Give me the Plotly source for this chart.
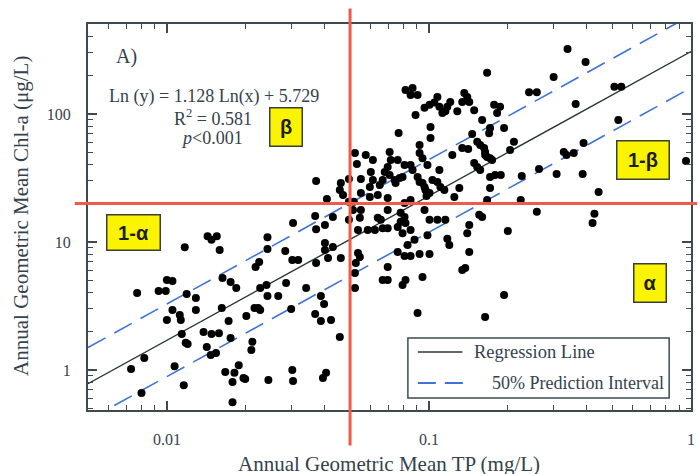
import numpy as np
import plotly.graph_objects as go

# ---------------- data ----------------
# Annual geometric mean TP (mg/L) and Chl-a (ug/L), grouped by TP range
tp_low = [0.0073, 0.0077, 0.0082, 0.0080, 0.0093, 0.0099, 0.0100, 0.0105, 0.0117, 0.0100,
          0.0105, 0.0107, 0.0116, 0.0112, 0.0113, 0.0114, 0.0118, 0.0120, 0.0119, 0.0129,
          0.0129, 0.0138, 0.0148, 0.0158, 0.0142, 0.0154, 0.0147, 0.0143, 0.0155, 0.0148,
          0.0159, 0.0162, 0.0172, 0.0175, 0.0163, 0.0175, 0.0184, 0.0167, 0.0188, 0.0181,
          0.0178, 0.0196, 0.0199, 0.0178, 0.0201, 0.0216, 0.0223, 0.0227, 0.0212, 0.0210,
          0.0225, 0.0218, 0.0227, 0.0240, 0.0242, 0.0242, 0.0242, 0.0244, 0.0266, 0.0283,
          0.0285, 0.0298, 0.0301, 0.0317, 0.0301, 0.0303, 0.0303]
chla_low = [1.02, 4.0, 1.24, 0.66, 4.15, 4.15, 5.05, 4.95, 9.1, 2.46,
            2.94, 1.07, 0.76, 2.69, 2.46, 1.91, 1.63, 1.60, 3.92, 3.65,
            2.94, 1.98, 1.91, 1.94, 1.51, 1.36, 1.31, 11.1, 11.1, 10.4,
            8.66, 3.05, 2.42, 1.78, 5.24, 4.87, 4.38, 0.965, 1.09, 0.95,
            0.805, 0.865, 0.85, 0.56, 2.64, 3.05, 3.05, 2.94, 1.66, 1.43,
            6.97, 6.37, 4.38, 4.61, 3.78, 10.9, 8.82, 0.835, 3.78, 8.5,
            4.78, 2.99, 7.23, 7.23, 1.00, 0.82, 14.1]

tp_mid = [0.0340, 0.0371, 0.0368, 0.0398, 0.0387, 0.0387, 0.0394, 0.0405, 0.0371, 0.0408,
          0.0368, 0.0371, 0.0401, 0.0401, 0.0401, 0.0430, 0.0412, 0.0461, 0.0423, 0.0457,
          0.0430, 0.0461, 0.0457, 0.0470, 0.0495, 0.0550, 0.0522, 0.0574, 0.0611, 0.0531,
          0.0600, 0.0611, 0.0550, 0.0595, 0.0649, 0.0666, 0.0708, 0.0740, 0.0746, 0.0773,
          0.0793, 0.0595, 0.0638, 0.0696, 0.0495, 0.0517, 0.0696, 0.0780, 0.0807, 0.0513,
          0.0550, 0.0495, 0.0545, 0.0638, 0.0655, 0.0584, 0.0622, 0.0666, 0.0696, 0.0760,
          0.0780, 0.0814, 0.0536, 0.0708, 0.0715, 0.0760, 0.0696, 0.0678, 0.0807, 0.0766,
          0.0536, 0.0545, 0.0526, 0.0522, 0.0522, 0.0696, 0.0666, 0.0696, 0.0793, 0.0814,
          0.0760, 0.0807, 0.0851, 0.0921, 0.1005, 0.0881, 0.0829, 0.0851, 0.0793, 0.0987]
chla_mid = [4.38, 6.85, 2.74, 3.28, 2.42, 3.78, 0.865, 0.95, 30.0, 21.7,
            16.0, 12.6, 13.6, 9.83, 8.66, 9.14, 7.50, 7.50, 2.46, 1.81,
            15.7, 28.9, 25.5, 23.3, 31.1, 31.1, 49.6, 47.8, 43.7, 40.7,
            35.2, 30.5, 24.1, 26.9, 27.9, 30.5, 33.4, 30.5, 28.9, 31.6,
            32.2, 22.5, 23.3, 22.1, 20.6, 20.6, 17.8, 16.9, 15.7, 17.8,
            17.8, 14.9, 15.5, 15.5, 14.9, 12.4, 12.4, 12.8, 12.8, 13.1,
            14.4, 14.1, 12.4, 50.4, 43.7, 43.7, 38.6, 35.2, 40.0, 71.0,
            8.20, 7.63, 6.85, 5.72, 4.38, 6.37, 5.05, 5.05, 4.61, 5.05,
            8.35, 7.77, 7.77, 8.05, 8.05, 10.4, 9.48, 12.4, 11.7, 11.3]

tp_upper = [0.1667, 0.0814, 0.0866, 0.0851, 0.0905, 0.0962, 0.1005, 0.1049, 0.1077, 0.1096,
            0.1125, 0.1175, 0.1206, 0.1155, 0.1283, 0.1364, 0.1400, 0.1340, 0.1425, 0.1488,
            0.1773, 0.1868, 0.1820, 0.0889, 0.1596, 0.1014, 0.1711, 0.1697, 0.1935, 0.1014,
            0.1462, 0.0921, 0.0921, 0.0945, 0.1340, 0.1412, 0.1528, 0.1569, 0.1624, 0.1638,
            0.1638, 0.1667, 0.1711, 0.1742, 0.1228, 0.0851, 0.0866, 0.0987, 0.1096, 0.1488,
            0.1528, 0.1569, 0.1711, 0.1788, 0.0905, 0.0921, 0.0945, 0.0962, 0.0970, 0.1005,
            0.1031, 0.1077, 0.1106, 0.1145, 0.1306, 0.1250, 0.1711, 0.0979, 0.0851, 0.0807,
            0.0962, 0.1005, 0.1077, 0.1155, 0.1555, 0.1596, 0.1667, 0.1425, 0.1400, 0.1175,
            0.1196, 0.1425, 0.1340, 0.1376, 0.0945, 0.1935, 0.0905, 0.1638]
chla_upper = [210, 154, 160, 141, 141, 112, 118, 123, 136, 114,
              102, 114, 124, 105, 105, 146, 136, 124, 124, 107,
              118, 114, 102, 98.2, 89.8, 79.2, 77.7, 70.9, 77.7, 64.9,
              69.7, 57.3, 49.6, 45.2, 54.2, 53.3, 60.6, 57.3, 54.2, 50.4,
              47.8, 46.2, 45.2, 43.7, 47.8, 40.0, 36.5, 40.0, 36.5, 41.4,
              38.6, 36.5, 32.2, 33.4, 32.2, 29.4, 28.9, 26.9, 25.5, 24.1,
              30.5, 29.4, 26.9, 25.5, 26.4, 22.5, 26.4, 22.9, 21.3, 20.2,
              17.8, 14.9, 14.9, 14.9, 16.3, 15.7, 21.3, 13.6, 11.7, 10.6,
              9.48, 8.35, 6.04, 6.26, 5.33, 3.85, 2.79, 2.59]

tp_high = [0.338, 0.396, 0.299, 0.241, 0.258, 0.510, 0.542, 0.363, 0.528, 0.211,
           0.204, 0.389, 0.327, 0.335, 0.357, 0.188, 0.226, 0.263, 0.307, 0.386,
           0.957, 0.444, 0.224, 0.258, 0.428, 0.421, 0.200]
chla_high = [322, 255, 195, 148, 148, 163, 163, 120, 89.8, 60.6,
             52.3, 59.4, 50.4, 47.8, 49.6, 33.4, 32.8, 37.2, 34.0, 34.0,
             43.0, 24.6, 21.3, 17.2, 16.6, 14.1, 12.2]

# regression (from the equation printed on the chart) and 50% prediction band factor
REG_SLOPE = 1.128
REG_INTERCEPT = 5.729
PI_FACTOR = 1.92

# thresholds (red lines)
TP_THRESHOLD = 0.05
CHLA_THRESHOLD = 20

X_RANGE = [0.005, 1.0]
Y_RANGE = [0.487, 505]

x_tick_vals = [0.01, 0.1, 1]
x_tick_text = ["0.01", "0.1", "1"]
y_tick_vals = [1, 10, 100]
y_tick_text = ["1", "10", "100"]

# ---------------- figure ----------------
tp = tp_low + tp_mid + tp_upper + tp_high
chla = chla_low + chla_mid + chla_upper + chla_high

INK = "#34424c"
AXIS = "#3d4b4f"
RED = "#f05a48"
BLUE = "#3f74d6"
REG = "#24382f"
SERIF = "Liberation Serif"

xr = np.array(X_RANGE)
reg_y = np.exp(REG_INTERCEPT) * xr ** REG_SLOPE

fig = go.Figure()
fig.add_trace(go.Scatter(x=xr, y=reg_y * PI_FACTOR, mode="lines",
                         line=dict(color=BLUE, width=1.6, dash="20px,10px"), showlegend=False))
fig.add_trace(go.Scatter(x=xr, y=reg_y / PI_FACTOR, mode="lines",
                         line=dict(color=BLUE, width=1.6, dash="20px,10px"), showlegend=False))
fig.add_trace(go.Scatter(x=xr, y=reg_y, mode="lines",
                         line=dict(color=REG, width=1.4), showlegend=False))
fig.add_trace(go.Scatter(x=tp, y=chla, mode="markers",
                         marker=dict(color="black", size=8), showlegend=False))

lx0, lx1 = np.log10(X_RANGE[0]), np.log10(X_RANGE[1])
ly0, ly1 = np.log10(Y_RANGE[0]), np.log10(Y_RANGE[1])
px_tp = (np.log10(TP_THRESHOLD) - lx0) / (lx1 - lx0)
py_chla = (np.log10(CHLA_THRESHOLD) - ly0) / (ly1 - ly0)

minor_x = [m * 10.0 ** k for k in range(-3, 1) for m in range(2, 10)]
minor_y = [m * 10.0 ** k for k in range(-1, 3) for m in range(2, 10)]

axis_common = dict(
    type="log", showgrid=False, zeroline=False, showline=True, linecolor=AXIS,
    linewidth=2, mirror="allticks", ticks="inside", ticklen=9, tickwidth=1.5,
    tickcolor=AXIS, tickfont=dict(family=SERIF, size=16, color=INK),
)

fig.update_layout(
    width=700, height=474,
    margin=dict(l=88, r=5, t=24, b=64),
    paper_bgcolor="white", plot_bgcolor="white",
    xaxis=dict(range=[lx0, lx1], tickmode="array", tickvals=x_tick_vals, ticktext=x_tick_text,
               ticklabelstandoff=14,
               minor=dict(tickmode="array", tickvals=minor_x, ticks="inside", ticklen=5,
                          tickcolor=AXIS, tickwidth=1.2, showgrid=False),
               **axis_common),
    yaxis=dict(range=[ly0, ly1], tickmode="array", tickvals=y_tick_vals, ticktext=y_tick_text,
               ticklabelstandoff=12,
               minor=dict(tickmode="array", tickvals=minor_y, ticks="inside", ticklen=5,
                          tickcolor=AXIS, tickwidth=1.2, showgrid=False),
               **axis_common),
    shapes=[
        dict(type="line", xref="paper", yref="paper", x0=px_tp, x1=px_tp, y0=-0.092, y1=1.04,
             line=dict(color=RED, width=3), layer="above"),
        dict(type="line", xref="paper", yref="paper", x0=-0.022, x1=1.01, y0=py_chla, y1=py_chla,
             line=dict(color=RED, width=3), layer="above"),
        # legend box
        dict(type="rect", xref="paper", yref="paper", x0=0.5305, x1=0.9638, y0=0.0311, y1=0.1865,
             line=dict(color=AXIS, width=1.5), fillcolor="white", layer="above"),
        dict(type="line", xref="paper", yref="paper", x0=0.547, x1=0.621, y0=0.1503, y1=0.1503,
             line=dict(color=REG, width=1.6), layer="above"),
        dict(type="line", xref="paper", yref="paper", x0=0.547, x1=0.631, y0=0.0699, y1=0.0699,
             line=dict(color=BLUE, width=1.8, dash="18px,9px"), layer="above"),
    ],
)

ann = []
# axis titles
ann.append(dict(text="Annual Geometric Mean TP (mg/L)", x=0.4992, y=-0.141, xref="paper", yref="paper",
                showarrow=False, font=dict(family=SERIF, size=21, color=INK), xanchor="center", yanchor="middle"))
ann.append(dict(text="Annual Geometric Mean Chl-a (μg/L)", x=-0.111, y=0.503, xref="paper", yref="paper",
                showarrow=False, textangle=-90, font=dict(family=SERIF, size=21, color=INK),
                xanchor="center", yanchor="middle"))
# panel label and equation
ann.append(dict(text="A)", x=0.064, y=0.915, xref="paper", yref="paper", showarrow=False,
                xanchor="center", yanchor="middle", font=dict(family=SERIF, size=20, color=INK)))
ann.append(dict(text="Ln (y) = 1.128 Ln(x) + 5.729", x=0.209, y=0.811, xref="paper", yref="paper",
                showarrow=False, xanchor="center", yanchor="middle",
                font=dict(family=SERIF, size=18, color=INK)))
ann.append(dict(text="R<sup>2</sup> = 0.581", x=0.2076, y=0.759, xref="paper", yref="paper",
                showarrow=False, xanchor="center", yanchor="middle",
                font=dict(family=SERIF, size=18, color=INK)))
ann.append(dict(text="<i>p</i>&lt;0.001", x=0.2059, y=0.705, xref="paper", yref="paper",
                showarrow=False, xanchor="center", yanchor="middle",
                font=dict(family=SERIF, size=18, color=INK)))
# legend texts
ann.append(dict(text="Regression Line", x=0.636, y=0.1503, xref="paper", yref="paper", showarrow=False,
                xanchor="left", yanchor="middle", font=dict(family=SERIF, size=18.5, color=INK)))
ann.append(dict(text="50% Prediction Interval", x=0.667, y=0.0699, xref="paper", yref="paper",
                showarrow=False, xanchor="left", yanchor="middle",
                font=dict(family=SERIF, size=18, color=INK)))
# yellow region boxes
for txt, cx, cy, w, h in [("β", 0.3278, 0.7332, 34, 40), ("1-β", 0.9209, 0.6477, 54, 40),
                          ("1-α", 0.0750, 0.4598, 55, 37), ("α", 0.9325, 0.3290, 34, 40)]:
    ann.append(dict(text="<b>" + txt + "</b>", x=cx, y=cy, xref="paper", yref="paper", showarrow=False,
                    xanchor="center", yanchor="middle", width=w - 3, height=h - 3,
                    bgcolor="#fbf400", bordercolor="#3a3f3a", borderwidth=1.5, borderpad=0,
                    font=dict(family="Liberation Sans", size=20, color="#1e1e1e")))
fig.update_layout(annotations=ann)

fig.write_html("out.html", config={"displayModeBar": False},
               post_script="document.body.style.margin='0';document.body.style.overflow='hidden';")
